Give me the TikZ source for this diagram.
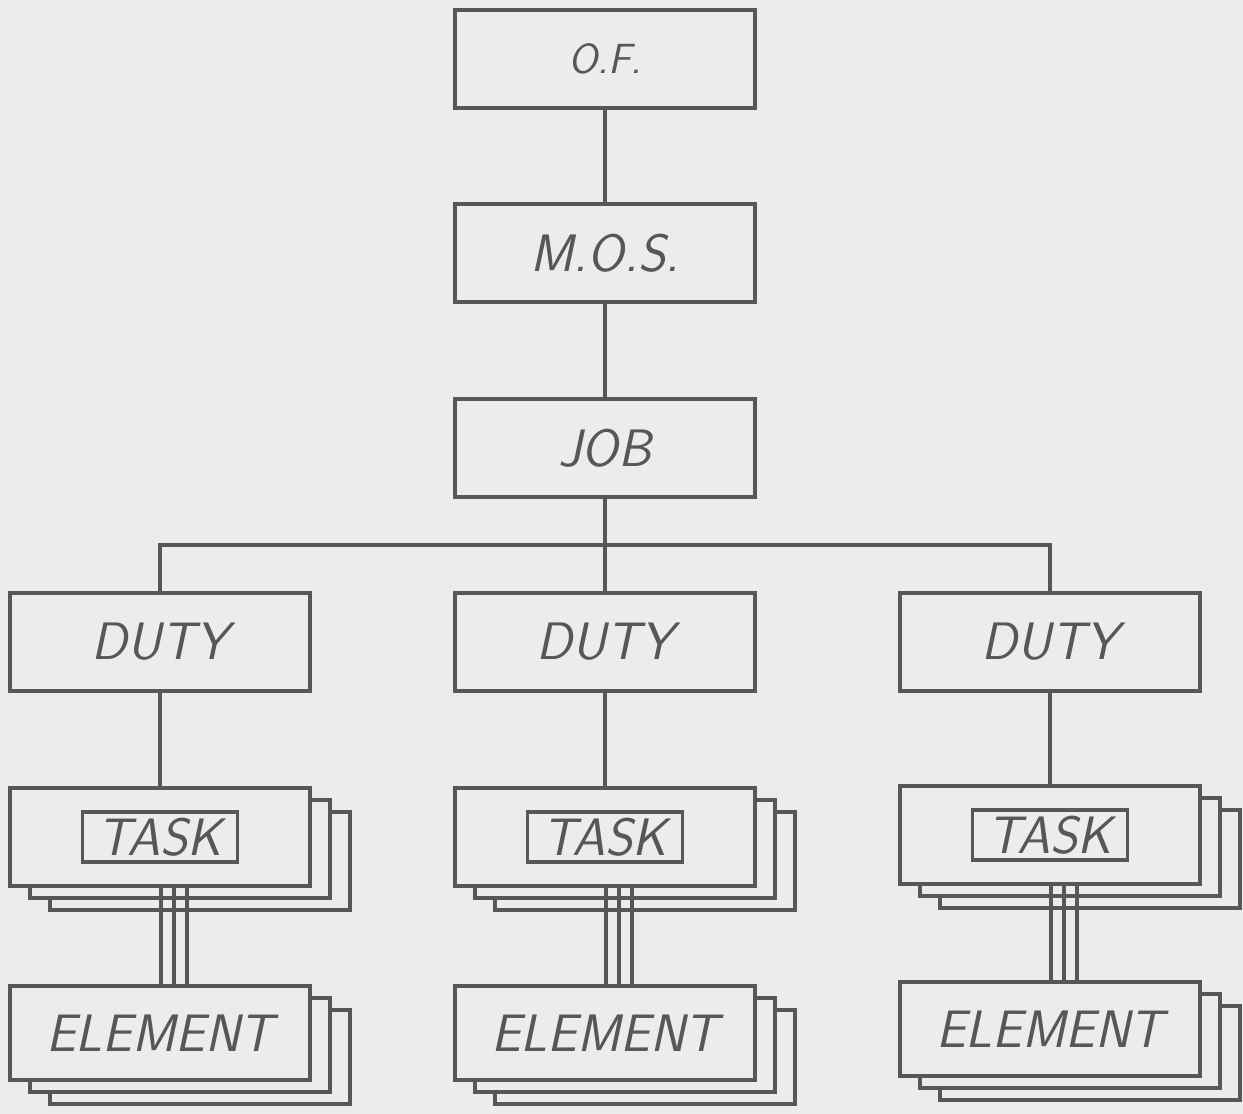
\documentclass[tikz,border=0pt]{standalone}
\usetikzlibrary{shadows}
\definecolor{ink}{HTML}{575757}
\definecolor{paper}{HTML}{ECECEC}

\begin{document}
\begin{tikzpicture}[x=0.02cm, y=-0.02cm,
    hand/.style={font=\fontsize{30}{30}\selectfont\sffamily\itshape, text=ink},
    box/.style={hand, draw=ink, fill=paper, line width=2.2pt, minimum width=6cm, minimum height=1.96cm},
    page/.style={copy shadow={shadow xshift=#1, shadow yshift=-0.6*#1, draw=ink, fill=paper, line width=2.2pt}},
    stack/.style={box, page=0.8cm, page=0.4cm},
    tag/.style={hand, draw=ink, line width=2pt, minimum width=3.1cm, minimum height=1cm, inner sep=2pt},
    link/.style={draw=ink, line width=2pt}]

    % Paper
    \fill[paper] (0, 0) rectangle (1243, 1114);
    \useasboundingbox (0, 0) rectangle (1243, 1114);
    \clip (0, 0) rectangle (1243, 1114);

    % Top of the tree
    \node[box, font=\fontsize{24}{24}\selectfont\sffamily\itshape] (of) at (605, 59) {O.F.};
    \node[box] (mos) at (605, 253) {M.O.S.};
    \node[box] (job) at (605, 448) {JOB};

    % Duties
    \node[box] (duty1) at (160, 642) {DUTY};
    \node[box] (duty2) at (605, 642) {DUTY};
    \node[box] (duty3) at (1050, 642) {DUTY};

    % Tasks
    \node[stack] (task1) at (160, 837) {};
    \node[stack] (task2) at (605, 837) {};
    \node[stack] (task3) at (1050, 835) {};
    \node[tag] (tag1) at (task1) {TASK};
    \node[tag] (tag2) at (task2) {TASK};
    \node[tag] (tag3) at (task3) {TASK};

    % Elements
    \node[stack, minimum height=1.88cm] (elem1) at (160, 1033) {ELEMENT};
    \node[stack, minimum height=1.88cm] (elem2) at (605, 1033) {ELEMENT};
    \node[stack, minimum height=1.88cm] (elem3) at (1050, 1029) {ELEMENT};

    % Links
    \coordinate (bar) at (605, 545);
    \draw[link] (of) -- (mos);
    \draw[link] (mos) -- (job);
    \draw[link] (job) -- (duty2);
    \draw[link] (duty1.north) |- (bar) -| (duty3.north);
    \foreach \i in {1,2,3} {
        \draw[link] (duty\i) -- (task\i);
        \foreach \dx in {0.02, 0.28, 0.54}
            \draw[link] ([xshift=\dx cm]task\i.south) -- ([xshift=\dx cm]elem\i.north);
    }
\end{tikzpicture}
\end{document}
